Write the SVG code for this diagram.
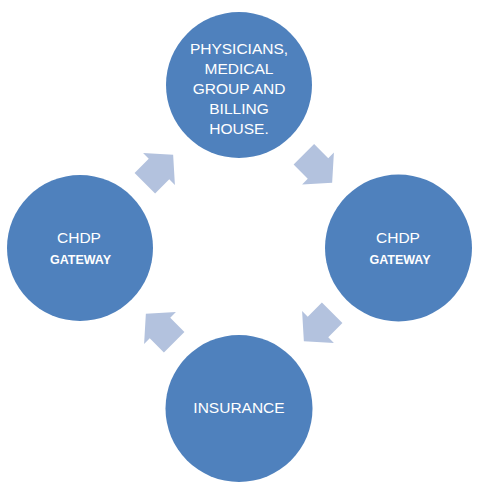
<svg xmlns="http://www.w3.org/2000/svg" width="483" height="491" viewBox="0 0 483 491">
<style>
.node{fill:#4F81BD}
.t{font-family:"Liberation Sans",Arial,sans-serif;font-size:15.5px;fill:#FFFFFF;text-anchor:middle}
.b{font-family:"Liberation Sans",Arial,sans-serif;font-size:12.5px;font-weight:bold;fill:#FFFFFF;text-anchor:middle}
.arr{fill:#B3C2DE}
</style>
<defs>
<path id="arrow" d="M-20,-14.5 L0,-14.5 L0,-22.5 L20,0 L0,22.5 L0,14.5 L-20,14.5 Z"/>
</defs>
<rect width="483" height="491" fill="#FFFFFF"/>
<g id="connectors">
<use href="#arrow" class="arr" transform="translate(159,169) rotate(-45)"/>
<use href="#arrow" class="arr" transform="translate(318,168.5) rotate(45)"/>
<use href="#arrow" class="arr" transform="translate(318,327) rotate(135)"/>
<use href="#arrow" class="arr" transform="translate(160,328) rotate(-135)"/>
</g>
<g id="physicians">
<circle class="node" cx="239" cy="85" r="73"/>
<text class="t" x="239" y="53.5">PHYSICIANS,</text>
<text class="t" x="239" y="73.5">MEDICAL</text>
<text class="t" x="239" y="93.5">GROUP AND</text>
<text class="t" x="239" y="113.5">BILLING</text>
<text class="t" x="239" y="133.5">HOUSE.</text>
</g>
<g id="gateway-right">
<circle class="node" cx="398.5" cy="248" r="73.5"/>
<text class="t" x="398" y="242.5">CHDP</text>
<text class="b" x="400" y="264">GATEWAY</text>
</g>
<g id="insurance">
<circle class="node" cx="239" cy="408.5" r="73.5"/>
<text class="t" x="239" y="413">INSURANCE</text>
</g>
<g id="gateway-left">
<circle class="node" cx="80" cy="248" r="73"/>
<text class="t" x="79" y="242.5">CHDP</text>
<text class="b" x="80.5" y="263.5">GATEWAY</text>
</g>
</svg>
